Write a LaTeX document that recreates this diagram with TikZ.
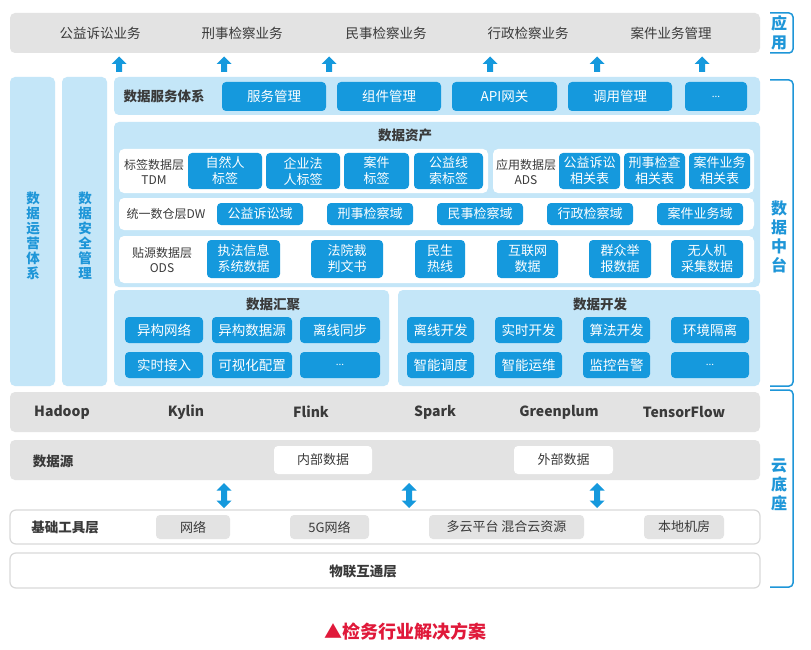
\documentclass[tikz,border=0pt]{standalone}
\usepackage{fontspec}
\setmainfont{Noto Sans CJK SC}
\definecolor{lblue}{HTML}{C4E6F8}
\definecolor{dblue}{HTML}{1599DD}
\definecolor{tblue}{HTML}{1E96D8}
\definecolor{lgray}{HTML}{E3E3E3}
\definecolor{bgray}{HTML}{D9D9D9}
\definecolor{txt}{HTML}{3A3A3A}
\definecolor{capred}{HTML}{E0193A}
\newcommand\rb[7]{%
  \pgfmathsetmacro\rbcx{(#3+#5)/2}%
  \pgfmathsetmacro\rbcy{(#4+#6)/2}%
  \pgfmathsetmacro\rbw{#5-#3}%
  \pgfmathsetmacro\rbh{#6-#4}%
  \node[#1, minimum width=\rbw pt, minimum height=\rbh pt] (#2) at (\rbcx,\rbcy) {#7};}
\tikzset{
  base/.style={inner sep=0pt, outer sep=0pt, align=center},
  graybar/.style={base, fill=lgray, rounded corners=5pt},
  bluebar/.style={base, fill=lblue, rounded corners=5pt},
  wbar/.style={base, fill=white, rounded corners=5pt},
  outbar/.style={base, fill=white, draw=bgray, line width=1.2pt, rounded corners=6pt},
  bbox/.style={base, fill=dblue, text=white, rounded corners=4pt, font=\fontsize{13.5}{16}\selectfont},
  abox/.style={base, fill=dblue, text=white, rounded corners=4pt, font=\fontsize{13}{16}\selectfont},
  gbox/.style={base, fill=lgray, text=txt, rounded corners=4pt, font=\fontsize{13}{16}\selectfont},
  wbox/.style={base, fill=white, text=txt, rounded corners=4pt, font=\fontsize{13}{16}\selectfont},
  lbl/.style={base, text=txt, font=\fontsize{12}{15}\selectfont},
  toptxt/.style={base, text=txt, font=\fontsize{13.5}{16}\selectfont},
  ttl/.style={base, text=txt, font=\bfseries\fontsize{13.5}{16}\selectfont},
  tech/.style={base, text=txt, font=\bfseries\fontsize{14}{16}\selectfont},
  vtxt/.style={base, text=tblue, font=\bfseries\fontsize{13.5}{15}\selectfont},
  btxt/.style={base, text=tblue, font=\bfseries\fontsize{16}{19}\selectfont},
  brk/.style={draw=tblue, line width=1.5pt, rounded corners=4pt},
}
\begin{document}
\begin{tikzpicture}[x=1pt,y=-1pt]
\useasboundingbox (0,0) rectangle (811,650);
\fill[white] (0,0) rectangle (811,650);
% application layer
\rb{graybar}{app}{10}{13}{760}{53}{}
\node[toptxt] (app1) at (100,33) {公益诉讼业务};
\node[toptxt] (app2) at (242,33) {刑事检察业务};
\node[toptxt] (app3) at (386,33) {民事检察业务};
\node[toptxt] (app4) at (528,33) {行政检察业务};
\node[toptxt] (app5) at (671,33) {案件业务管理};
\foreach \ax in {119,224,329,490,597,702}
  \fill[dblue] (\ax-3,72) -- (\ax-3,64) -- (\ax-7.5,64) -- (\ax,56.5) -- (\ax+7.5,64) -- (\ax+3,64) -- (\ax+3,72) -- cycle;
% left columns
\rb{bluebar}{ops}{10}{77}{55}{386}{}
\rb{bluebar}{sec}{62}{77}{107}{386}{}
\node[vtxt] (opsT) at (33,236) {数\\据\\运\\营\\体\\系};
\node[vtxt] (secT) at (85,236) {数\\据\\安\\全\\管\\理};
% data service
\rb{bluebar}{svc}{114}{77}{760}{115}{}
\node[ttl] (svcT) at (164,96) {数据服务体系};
\rb{bbox}{s1}{222}{82}{326}{111}{服务管理}
\rb{bbox}{s2}{337}{82}{441}{111}{组件管理}
\rb{bbox}{s3}{452}{82}{557}{111}{API网关}
\rb{bbox}{s4}{568}{82}{672}{111}{调用管理}
\rb{bbox}{s5}{685}{82}{747}{111}{\fontsize{10}{12}\selectfont...}
% data assets
\rb{bluebar}{assets}{114}{122}{760}{287}{}
\node[ttl] (assetsT) at (405,135) {数据资产};
\rb{wbar}{tdm}{119}{149}{488}{193}{}
\node[lbl] (tdmL) at (154,172) {标签数据层\\TDM};
\rb{abox}{t1}{188}{153}{262}{189}{自然人\\标签}
\rb{abox}{t2}{266}{153}{340}{189}{企业法\\人标签}
\rb{abox}{t3}{344}{153}{409}{189}{案件\\标签}
\rb{abox}{t4}{414}{153}{483}{189}{公益线\\索标签}
\rb{wbar}{ads}{493}{149}{754}{193}{}
\node[lbl] (adsL) at (526,172) {应用数据层\\ADS};
\rb{abox}{a1}{559}{153}{620}{189}{公益诉讼\\相关表}
\rb{abox}{a2}{624}{153}{685}{189}{刑事检查\\相关表}
\rb{abox}{a3}{689}{153}{750}{189}{案件业务\\相关表}
\rb{wbar}{dw}{119}{198}{754}{230}{}
\node[lbl] (dwL) at (166,214) {统一数仓层DW};
\rb{abox}{d1}{217}{203}{303}{225}{公益诉讼域}
\rb{abox}{d2}{327}{203}{413}{225}{刑事检察域}
\rb{abox}{d3}{437}{203}{523}{225}{民事检察域}
\rb{abox}{d4}{547}{203}{633}{225}{行政检察域}
\rb{abox}{d5}{657}{203}{743}{225}{案件业务域}
\rb{wbar}{ods}{119}{236}{754}{283}{}
\node[lbl] (odsL) at (162,260) {贴源数据层\\ODS};
\rb{abox}{o1}{207}{240}{280}{278}{执法信息\\系统数据}
\rb{abox}{o2}{311}{240}{383}{278}{法院裁\\判文书}
\rb{abox}{o3}{415}{240}{465}{278}{民生\\热线}
\rb{abox}{o4}{497}{240}{558}{278}{互联网\\数据}
\rb{abox}{o5}{589}{240}{651}{278}{群众举\\报数据}
\rb{abox}{o6}{671}{240}{743}{278}{无人机\\采集数据}
% data collection
\rb{bluebar}{coll}{114}{290}{389}{386}{}
\node[ttl] (collT) at (273,304) {数据汇聚};
\rb{bbox}{c1}{125}{317}{203}{343}{异构网络}
\rb{bbox}{c2}{212}{317}{292}{343}{异构数据源}
\rb{bbox}{c3}{300}{317}{380}{343}{离线同步}
\rb{bbox}{c4}{125}{352}{203}{378}{实时接入}
\rb{bbox}{c5}{212}{352}{292}{378}{可视化配置}
\rb{bbox}{c6}{300}{352}{380}{378}{\fontsize{10}{12}\selectfont...}
% data development
\rb{bluebar}{dev}{398}{290}{760}{386}{}
\node[ttl] (devT) at (600,304) {数据开发};
\rb{bbox}{e1}{407}{317}{474}{343}{离线开发}
\rb{bbox}{e2}{495}{317}{562}{343}{实时开发}
\rb{bbox}{e3}{583}{317}{650}{343}{算法开发}
\rb{bbox}{e4}{671}{317}{749}{343}{环境隔离}
\rb{bbox}{e5}{407}{352}{474}{378}{智能调度}
\rb{bbox}{e6}{495}{352}{562}{378}{智能运维}
\rb{bbox}{e7}{583}{352}{650}{378}{监控告警}
\rb{bbox}{e8}{671}{352}{749}{378}{\fontsize{10}{12}\selectfont...}
% tech stack
\rb{graybar}{tech}{10}{392}{760}{432}{}
\node[tech] (h1) at (62,412) {Hadoop};
\node[tech] (h2) at (186,412) {Kylin};
\node[tech] (h3) at (311,412) {Flink};
\node[tech] (h4) at (435,412) {Spark};
\node[tech] (h5) at (559,412) {Greenplum};
\node[tech] (h6) at (684,412) {TensorFlow};
% data source
\rb{graybar}{src}{10}{440}{760}{480}{}
\node[ttl] (srcT) at (53,461) {数据源};
\rb{wbox}{in}{274}{446}{372}{474}{内部数据}
\rb{wbox}{out}{514}{446}{613}{474}{外部数据}
\foreach \ax in {224,409,597}
  \fill[dblue] (\ax,483) -- (\ax+7.5,490.5) -- (\ax+3,490.5) -- (\ax+3,500.5) -- (\ax+7.5,500.5) -- (\ax,508) -- (\ax-7.5,500.5) -- (\ax-3,500.5) -- (\ax-3,490.5) -- (\ax-7.5,490.5) -- cycle;
% base tools
\rb{outbar}{tools}{10}{510}{760}{544}{}
\node[ttl] (toolsT) at (65,527) {基础工具层};
\rb{gbox}{g1}{156}{515}{230}{539}{网络}
\rb{gbox}{g2}{290}{515}{369}{539}{5G网络}
\rb{gbox}{g3}{429}{515}{584}{539}{多云平台 混合云资源}
\rb{gbox}{g4}{644}{515}{724}{539}{本地机房}
\rb{outbar}{iot}{10}{553}{760}{588}{}
\node[ttl] (iotT) at (363,571) {物联互通层};
% right brackets
\draw[brk] (770,13) -- (793,13) -- (793,53) -- (770,53);
\node[btxt] (appB) at (779,33) {应\\用};
\draw[brk] (770,80) -- (793,80) -- (793,386) -- (770,386);
\node[btxt] (midB) at (779,237) {数\\据\\中\\台};
\draw[brk] (770,390) -- (793,390) -- (793,587) -- (770,587);
\node[btxt] (cloudB) at (779,485) {云\\底\\座};
% caption
\node[base, text=capred, font=\bfseries\fontsize{18}{20}\selectfont] (cap) at (405,632) {▲检务行业解决方案};
\end{tikzpicture}
\end{document}
